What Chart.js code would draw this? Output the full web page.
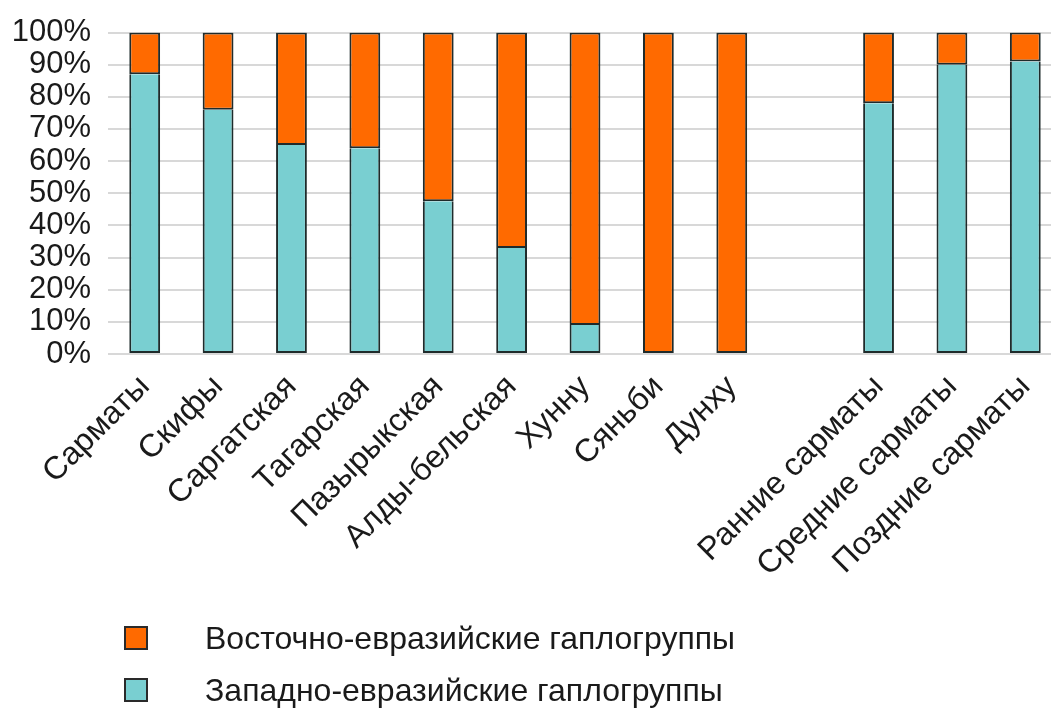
<!DOCTYPE html>
<html lang="ru">
<head>
  <meta charset="UTF-8" />
  <title>Восточно- и западно-евразийские гаплогруппы</title>
  <script src="https://cdn.jsdelivr.net/npm/chart.js"></script>
  <style>
    html, body {
      margin: 0;
      padding: 0;
      background: #fff;
      overflow: hidden;
    }

    .wrap {
      position: relative;
      width: 1051px;
      height: 713px;
      overflow: hidden;
    }

    #chart {
      position: absolute;
      left: 0;
      top: 0;
    }

    /* legend is plain html, built from the datasets below */
    .legend {
      position: absolute;
      left: 124px;
      top: 612px;
      font-family: "Liberation Sans", Arial, sans-serif;
      font-size: 32px;
      color: #1a1a1a;
    }

    .legend-item {
      display: flex;
      align-items: center;
      height: 52px;
    }

    .legend-box {
      width: 20px;
      height: 20px;
      border: 2px solid #2a2a2a;
      margin-right: 57px;
    }
  </style>
</head>

<body>
  <div class="wrap">
    <canvas id="chart" width="1062" height="713"></canvas>
    <div class="legend" id="legend"></div>
  </div>

  <script>
    // categories (the empty one is the gap before the sarmatian periods)
    const categories = [
      'Сарматы', 'Скифы', 'Саргатская', 'Тагарская', 'Пазырыкская',
      'Алды-бельская', 'Хунну', 'Сяньби', 'Дунху', '',
      'Ранние сарматы', 'Средние сарматы', 'Поздние сарматы'
    ];

    // percent of samples
    const westEurasian = [87, 76, 65, 64, 47.5, 33, 9, 0, 0, null, 78, 90, 91];
    const eastEurasian = [13, 24, 35, 36, 52.5, 67, 91, 100, 100, null, 22, 10, 9];

    const yTicks = [0, 10, 20, 30, 40, 50, 60, 70, 80, 90, 100];

    const seriesNames = ['Западно-евразийские гаплогруппы', 'Восточно-евразийские гаплогруппы'];

    const teal = '#79cfd1';
    const orange = '#ff6a00';
    const edge = '#1f2b2b';
    const fontFamily = '"Liberation Sans", Arial, sans-serif';

    const ctx = document.getElementById('chart').getContext('2d');
    const chart = new Chart(ctx, {
      type: 'bar',
      data: {
        labels: categories,
        datasets: [
          {
            label: seriesNames[0],
            data: westEurasian,
            backgroundColor: teal,
            borderColor: edge,
            borderWidth: 2,
            borderSkipped: 'end'
          },
          {
            label: seriesNames[1],
            data: eastEurasian,
            backgroundColor: orange,
            borderColor: edge,
            borderWidth: 2,
            borderSkipped: false
          }
        ]
      },
      options: {
        responsive: false,
        animation: false,
        layout: { padding: { top: 22, right: 0, bottom: 0, left: 0 } },
        datasets: {
          bar: { categoryPercentage: 1, barPercentage: 0.42 }
        },
        plugins: {
          legend: { display: false },
          tooltip: { enabled: false }
        },
        scales: {
          x: {
            stacked: true,
            grid: { display: false },
            border: { display: false },
            ticks: {
              autoSkip: false,
              minRotation: 45,
              maxRotation: 45,
              padding: 6,
              color: '#1a1a1a',
              font: { family: fontFamily, size: 32 }
            },
            afterFit: s => { s.height = 713 - 354; }
          },
          y: {
            stacked: true,
            min: 0,
            max: 100,
            afterBuildTicks: s => { s.ticks = yTicks.map(v => ({ value: v })); },
            grid: { color: '#d8d8d8', lineWidth: 2, drawTicks: false },
            border: { display: false },
            ticks: {
              autoSkip: false,
              padding: 17,
              color: '#1a1a1a',
              font: { family: fontFamily, size: 31, lineHeight: 1 },
              callback: v => v + '%'
            },
            afterFit: s => { s.width = 108; }
          }
        }
      }
    });

    // legend: eastern first, as in the figure
    const legendEl = document.getElementById('legend');
    [1, 0].forEach(i => {
      const ds = chart.data.datasets[i];
      const item = document.createElement('div');
      item.className = 'legend-item';
      const box = document.createElement('span');
      box.className = 'legend-box';
      box.style.background = ds.backgroundColor;
      const txt = document.createElement('span');
      txt.textContent = ds.label;
      item.appendChild(box);
      item.appendChild(txt);
      legendEl.appendChild(item);
    });
  </script>
</body>
</html>
